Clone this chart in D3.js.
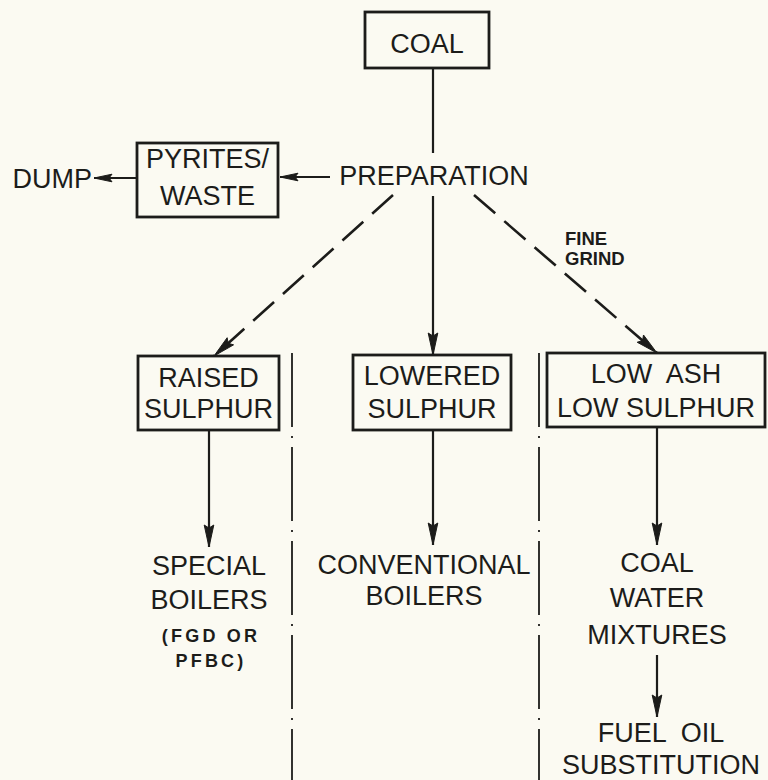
<!DOCTYPE html>
<html>
<head>
<meta charset="utf-8">
<script src="https://cdn.jsdelivr.net/npm/d3@7/dist/d3.min.js"></script>
<style>
  html, body { margin: 0; padding: 0; background: #fbfaf2; }
  svg { display: block; }
  text { font-family: "Liberation Sans", Arial, sans-serif; fill: #1c1c1a; white-space: pre; }
</style>
</head>
<body>
<div id="chart"></div>
<script>
// flow streams (the three product routes after preparation)
const streams = ["raised", "lowered", "lowash"];
// stages down the page
const stages = ["source", "prep", "grade", "use", "end"];

// boxed nodes: label lines
const boxIds = ["coal", "pyrites", "raised", "lowered", "lowash"];
const boxLabels = [["COAL"], ["PYRITES/", "WASTE"], ["RAISED", "SULPHUR"], ["LOWERED", "SULPHUR"], ["LOW  ASH", "LOW SULPHUR"]];

// free text nodes
const textIds = ["prep", "dump", "special", "conv", "cwm", "fuel"];
const textLabels = [["PREPARATION"], ["DUMP"], ["SPECIAL", "BOILERS"], ["CONVENTIONAL", "BOILERS"], ["COAL", "WATER", "MIXTURES"], ["FUEL  OIL", "SUBSTITUTION"]];
const noteLabels = [["FINE", "GRIND"], ["(FGD OR", "PFBC)"]];

// connections: from, to, style
const links = [
  ["coal", "prep", "plain"],
  ["prep", "pyrites", "arrow"],
  ["pyrites", "dump", "arrow"],
  ["prep", "raised", "dashed"],
  ["prep", "lowered", "arrow"],
  ["prep", "lowash", "dashed"],
  ["raised", "special", "arrow"],
  ["lowered", "conv", "arrow"],
  ["lowash", "cwm", "arrow"],
  ["cwm", "fuel", "arrow"]
];

const width = 768, height = 780;
const ink = "#1c1c1a";

// ---- layout ----
const x = d3.scalePoint().domain(streams).range([209, 657]);
const y = d3.scaleOrdinal().domain(stages).range([12, 177, 355, 545, 717]);

const boxGeom = {
  coal:    {x0: 365, x1: 489, y0: y("source"), y1: 68, base: [53]},
  pyrites: {x0: 137, x1: 278, y0: 143, y1: 217, base: [168, 205]},
  raised:  {x0: 138, x1: 279, y0: y("grade") + 1, y1: 430, base: [387, 418]},
  lowered: {x0: 353, x1: 511, y0: y("grade"), y1: 430, base: [385, 418]},
  lowash:  {x0: 547, x1: 765, y0: y("grade") - 2, y1: 427, base: [383, 417]}
};
const textGeom = {
  prep:    {cx: 434, base: [185], anchor: "middle"},
  dump:    {cx: 92, base: [188], anchor: "end"},
  special: {cx: x("raised"), base: [575, 609], anchor: "middle"},
  conv:    {cx: 424, base: [574, 605], anchor: "middle"},
  cwm:     {cx: x("lowash"), base: [572, 607, 644], anchor: "middle"},
  fuel:    {cx: 661, base: [742, 774], anchor: "middle"}
};
// endpoints of each connection
const linkGeom = {
  "coal-prep":      [[433, 68], [433, 153]],
  "prep-pyrites":   [[330, y("prep")], [280, y("prep")]],
  "pyrites-dump":   [[137, 178], [94, 178]],
  "prep-raised":    [[393, 195], [214, y("grade") + 1]],
  "prep-lowered":   [[433, 196], [433, y("grade")]],
  "prep-lowash":    [[474, 195], [657, y("grade") - 2]],
  "raised-special": [[x("raised"), 430], [x("raised"), y("use") + 2]],
  "lowered-conv":   [[x("lowered"), 430], [x("lowered"), y("use")]],
  "lowash-cwm":     [[x("lowash"), 427], [x("lowash"), y("use")]],
  "cwm-fuel":       [[x("lowash"), 655], [x("lowash"), y("end")]]
};
const separators = [292, 539];

const svg = d3.select("#chart").append("svg")
  .attr("width", width)
  .attr("height", height);

svg.append("rect").attr("width", width).attr("height", height).attr("fill", "#fbfaf2");

// dash-dot column separators
svg.append("g").selectAll("line")
  .data(separators)
  .enter().append("line")
  .attr("x1", d => d).attr("x2", d => d)
  .attr("y1", 353).attr("y2", height)
  .attr("stroke", ink)
  .attr("stroke-width", 1.8)
  .attr("stroke-dasharray", "74,9,2,9");

// boxes
const boxes = svg.append("g").selectAll("g")
  .data(boxIds.map((id, i) => ({id: id, lines: boxLabels[i], g: boxGeom[id]})))
  .enter().append("g");

boxes.append("rect")
  .attr("x", d => d.g.x0).attr("y", d => d.g.y0)
  .attr("width", d => d.g.x1 - d.g.x0)
  .attr("height", d => d.g.y1 - d.g.y0)
  .attr("fill", "none")
  .attr("stroke", ink)
  .attr("stroke-width", 2.8);

boxes.each(function(d) {
  d3.select(this).selectAll("text")
    .data(d.lines)
    .enter().append("text")
    .attr("x", (d.g.x0 + d.g.x1) / 2)
    .attr("y", (t, i) => d.g.base[i])
    .attr("text-anchor", "middle")
    .attr("font-size", 27)
    .text(t => t);
});

// free labels
const labels = svg.append("g").selectAll("g")
  .data(textIds.map((id, i) => ({id: id, lines: textLabels[i], g: textGeom[id]})))
  .enter().append("g");

labels.each(function(d) {
  d3.select(this).selectAll("text")
    .data(d.lines)
    .enter().append("text")
    .attr("x", d.g.cx)
    .attr("y", (t, i) => d.g.base[i])
    .attr("text-anchor", d.g.anchor)
    .attr("font-size", 27)
    .text(t => t);
});

// small notes
svg.append("g").selectAll("text")
  .data(noteLabels[0])
  .enter().append("text")
  .attr("x", 565)
  .attr("y", (t, i) => [245, 265][i])
  .attr("font-size", 18.5)
  .attr("font-weight", "bold")
  .text(t => t);

svg.append("g").selectAll("text")
  .data(noteLabels[1])
  .enter().append("text")
  .attr("x", x("raised") + 2)
  .attr("y", (t, i) => [642, 667][i])
  .attr("text-anchor", "middle")
  .attr("font-size", 18)
  .attr("font-weight", "bold")
  .attr("letter-spacing", 3.2)
  .text(t => t);

// connections
function arrowHead(p0, p1, len, half) {
  const dx = p1[0] - p0[0], dy = p1[1] - p0[1];
  const L = Math.sqrt(dx * dx + dy * dy);
  const ux = dx / L, uy = dy / L;
  const bx = p1[0] - ux * len, by = p1[1] - uy * len;
  return "M" + p1[0] + "," + p1[1] +
    "L" + (bx - uy * half) + "," + (by + ux * half) +
    "L" + (bx + ux * 3) + "," + (by + uy * 3) +
    "L" + (bx + uy * half) + "," + (by - ux * half) + "Z";
}

const conn = svg.append("g").selectAll("g")
  .data(links.map(l => ({style: l[2], pts: linkGeom[l[0] + "-" + l[1]]})))
  .enter().append("g");

conn.append("line")
  .attr("x1", d => d.pts[0][0]).attr("y1", d => d.pts[0][1])
  .attr("x2", d => d.pts[1][0]).attr("y2", d => d.pts[1][1])
  .attr("stroke", ink)
  .attr("stroke-width", d => d.style === "dashed" ? 2.6 : 2.2)
  .attr("stroke-dasharray", d => d.style === "dashed" ? "28,12" : null);

conn.filter(d => d.style !== "plain")
  .append("path")
  .attr("d", d => {
    const horiz = d.pts[0][1] === d.pts[1][1];
    return arrowHead(d.pts[0], d.pts[1], horiz ? 18 : 22, horiz ? 3.8 : 4.8);
  })
  .attr("fill", ink)
  .attr("stroke", ink)
  .attr("stroke-width", 1)
  .attr("stroke-linejoin", "round");
</script>
</body>
</html>
